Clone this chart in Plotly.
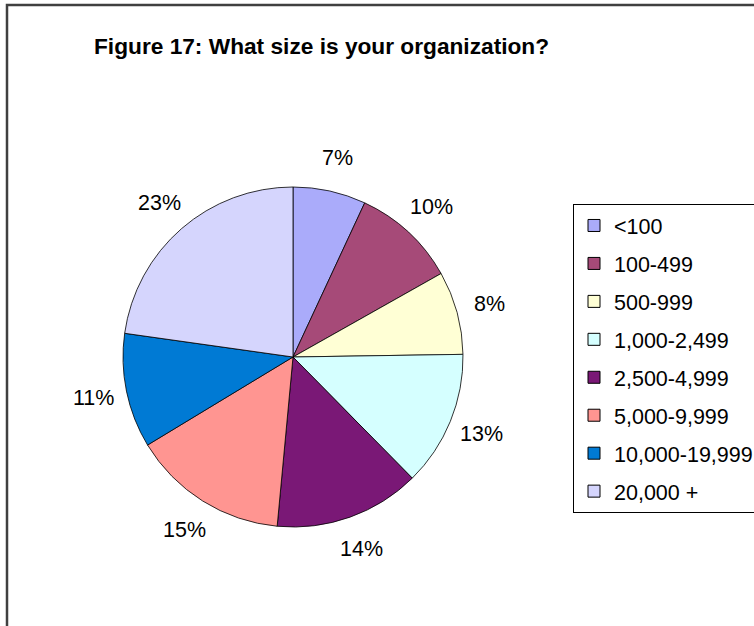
import math
import plotly.graph_objects as go

# Survey answers: organization size
sizes = ["<100", "100-499", "500-999", "1,000-2,499", "2,500-4,999",
         "5,000-9,999", "10,000-19,999", "20,000 +"]
shares = [7, 10, 8, 13, 14, 15, 11, 23]
colors = ["#AAABFA", "#A64A78", "#FFFFD5", "#D5FFFF", "#7A1876",
          "#FF9591", "#007AD4", "#D5D5FD"]

W, H = 754, 626
FONT = "Liberation Sans, Arial, sans-serif"

# pie placement in pixels
cx, cy, r = 293, 357, 170
label_r = 204

fig = go.Figure(go.Pie(
    labels=sizes,
    values=shares,
    sort=False,
    direction="clockwise",
    rotation=0,
    marker=dict(colors=colors, line=dict(color="#000000", width=0.8)),
    textinfo="none",
    hoverinfo="label+value",
    showlegend=False,
    domain=dict(x=[(cx - r) / W, (cx + r) / W],
                y=[1 - (cy + r) / H, 1 - (cy - r) / H]),
))

# legend entries, one group per size class so they can be spaced apart
for name, col in zip(sizes, colors):
    fig.add_trace(go.Scatter(
        x=[None], y=[None], mode="markers", name=name, legendgroup=name,
        marker=dict(symbol="square", size=12, color=col,
                    line=dict(color="#000000", width=1)),
        hoverinfo="skip",
    ))

# percentage labels outside each slice, placed at the slice mid-angle
total = sum(shares)
acc = 0
annotations = []
for v in shares:
    mid = (acc + v / 2) / total * 2 * math.pi
    acc += v
    px = cx + label_r * math.sin(mid)
    py = cy - label_r * math.cos(mid)
    annotations.append(dict(
        x=px / W, y=1 - py / H, xref="paper", yref="paper",
        text=f"{v}%", showarrow=False,
        font=dict(family=FONT, size=21.5, color="#000000"),
        xanchor="center", yanchor="middle",
    ))

annotations.append(dict(
    x=321 / W, y=1 - 46 / H, xref="paper", yref="paper",
    text="<b>Figure 17: What size is your organization?</b>", showarrow=False,
    font=dict(family=FONT, size=22.7, color="#000000"),
    xanchor="center", yanchor="middle",
))

fig.update_layout(
    width=W, height=H,
    margin=dict(l=0, r=0, t=0, b=0, autoexpand=False),
    paper_bgcolor="#FFFFFF",
    plot_bgcolor="#FFFFFF",
    xaxis=dict(visible=False),
    yaxis=dict(visible=False),
    showlegend=True,
    legend=dict(
        x=573 / W, y=1 - 204 / H, xanchor="left", yanchor="top",
        bordercolor="#000000", borderwidth=1, bgcolor="#FFFFFF",
        font=dict(family=FONT, size=21.5, color="#000000"),
        tracegroupgap=7, traceorder="grouped",
    ),
    annotations=annotations,
    shapes=[dict(
        type="rect", xref="paper", yref="paper",
        x0=7 / W, y0=-0.1, x1=1.1, y1=1 - 5 / H,
        line=dict(color="#404040", width=2.5), fillcolor="rgba(0,0,0,0)",
        layer="below",
    )],
)

fig.write_html("out.html")
